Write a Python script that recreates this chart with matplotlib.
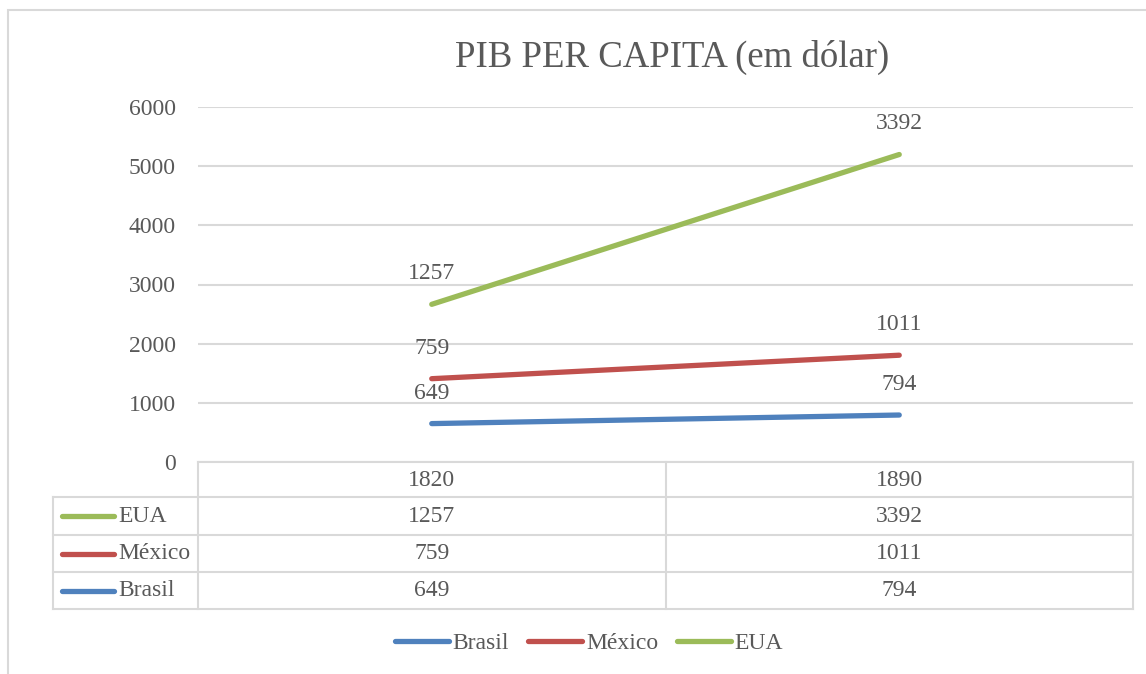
import matplotlib.pyplot as plt
import numpy as np
from matplotlib.lines import Line2D
from matplotlib.patches import Rectangle
from matplotlib.transforms import blended_transform_factory

# dados do gráfico (linhas empilhadas, rótulos com os valores originais)
anos = ['1820', '1890']
paises = ['Brasil', 'México', 'EUA']
brasil = [649, 794]
mexico = [759, 1011]
eua = [1257, 3392]
cores = ['#4F81BD', '#C0504D', '#9BBB59']
titulo = 'PIB PER CAPITA (em dólar)'

W, H = 1146, 674
GRAY = '#595959'
GRID = '#D9D9D9'

plt.rcParams['font.family'] = ['Liberation Serif', 'DejaVu Serif']


def fx(px):
    return px / W


def fy(py):
    return 1 - py / H


fig = plt.figure(figsize=(W / 100, H / 100), dpi=100)

# moldura externa
fig.add_artist(Rectangle((fx(8), fy(690)), fx(1160) - fx(8), fy(10) - fy(690),
                         transform=fig.transFigure, fill=False, edgecolor=GRID, lw=1.5))

ax = fig.add_axes([fx(198), fy(462), fx(1133) - fx(198), fy(107) - fy(462)])
ax.set_xlim(0, 2)
ax.set_ylim(0, 6000)
ax.set_yticks(np.arange(0, 6001, 1000))
ax.yaxis.grid(True, color=GRID, lw=1.5)
ax.set_axisbelow(True)
for s in ax.spines.values():
    s.set_visible(False)
ax.tick_params(axis='y', length=0, pad=16, labelsize=17, labelcolor=GRAY)
ax.set_xticks([])

x = np.arange(len(anos)) + 0.5
series = [brasil, mexico, eua]
base = np.zeros(len(anos))
for nome, vals, cor in zip(paises, series, cores):
    topo = base + np.array(vals)
    ax.plot(x, topo, color=cor, lw=3.8, solid_capstyle='round', label=nome)
    for xi, yi, v in zip(x, topo, vals):
        ax.annotate(str(v), (xi, yi), xytext=(0, 22), textcoords='offset points',
                    ha='center', va='center', fontsize=17, color=GRAY)
    base = topo

fig.text(fx(672), fy(57), titulo, ha='center', va='center', fontsize=26.5, color=GRAY)

# tabela de dados
tr = blended_transform_factory(ax.transData, fig.transFigure)
linhas_y = [462, 497, 535, 572, 609]


def hline(x0, x1, y):
    fig.add_artist(Line2D([fx(x0), fx(x1)], [fy(y), fy(y)], transform=fig.transFigure,
                          color=GRID, lw=1.5))


def vline(xp, y0, y1):
    fig.add_artist(Line2D([fx(xp), fx(xp)], [fy(y0), fy(y1)], transform=fig.transFigure,
                          color=GRID, lw=1.5))


hline(198, 1133, 462)
for yy in linhas_y[1:]:
    hline(53, 1133, yy)
vline(53, 497, 609)
for xp in [198, 666, 1133]:
    vline(xp, 462, 609)

for xi, ano in zip(x, anos):
    fig.text(xi, fy(480), ano, transform=tr, ha='center', va='center', fontsize=17, color=GRAY)

ordem = [2, 1, 0]
for k, i in enumerate(ordem):
    yc = (linhas_y[k + 1] + linhas_y[k + 2]) / 2
    fig.add_artist(Line2D([fx(62), fx(114)], [fy(yc), fy(yc)], transform=fig.transFigure,
                          color=cores[i], lw=3.8, solid_capstyle='round'))
    fig.text(fx(118), fy(yc), paises[i], ha='left', va='center', fontsize=17, color=GRAY)
    for xi, v in zip(x, series[i]):
        fig.text(xi, fy(yc), str(v), transform=tr, ha='center', va='center',
                 fontsize=17, color=GRAY)

leg = fig.legend(loc='center', bbox_to_anchor=(fx(589), fy(643)), ncol=3, frameon=False,
                 fontsize=17, handlelength=2.3, handletextpad=0.15, columnspacing=0.8)
for t in leg.get_texts():
    t.set_color(GRAY)

fig.savefig('out.png', dpi=100)
